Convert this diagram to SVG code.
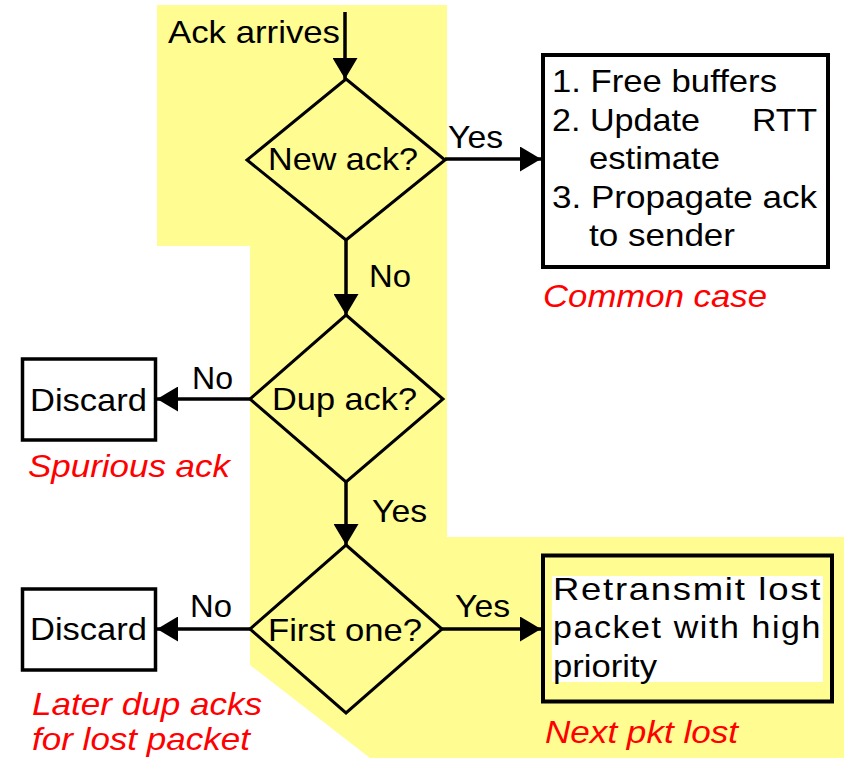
<svg xmlns="http://www.w3.org/2000/svg" width="844" height="758" viewBox="0 0 844 758">
<style>
text{font-family:"Liberation Sans",Arial,sans-serif;font-size:32px;fill:#000}
.note{fill:#ff0000;font-style:italic}
.shape{fill:none;stroke:#000;stroke-width:3}
.box{fill:#fff;stroke:#000;stroke-width:4}
.conn line{stroke:#000;stroke-width:3.5;marker-end:url(#ah)}
</style>
<defs>
<marker id="ah" viewBox="0 0 21 25" refX="21" refY="12.5" markerWidth="21" markerHeight="25" markerUnits="userSpaceOnUse" orient="auto">
<path d="M0,0 L21,12.5 L0,25 z" fill="#000"/>
</marker>
</defs>
<rect width="844" height="758" fill="#fff"/>
<polygon id="highlight" points="157,5 447,5 447,537 844,537 844,758 370,758 250,665 250,246 157,246" fill="#fffc91"/>

<g class="conn" id="connectors">
<line x1="345" y1="12" x2="345" y2="79"/>
<line x1="346" y1="240" x2="346" y2="315"/>
<line x1="346" y1="482" x2="346" y2="545"/>
<line x1="445" y1="159" x2="541" y2="159"/>
<line x1="250" y1="399" x2="157" y2="399"/>
<line x1="250" y1="629" x2="157" y2="629"/>
<line x1="442" y1="629" x2="541" y2="629"/>
<text x="168" y="43" textLength="172" lengthAdjust="spacingAndGlyphs">Ack arrives</text>
<text x="448" y="148" textLength="55" lengthAdjust="spacingAndGlyphs">Yes</text>
<text x="369" y="287" textLength="42" lengthAdjust="spacingAndGlyphs">No</text>
<text x="192" y="389" textLength="41" lengthAdjust="spacingAndGlyphs">No</text>
<text x="372" y="522" textLength="55" lengthAdjust="spacingAndGlyphs">Yes</text>
<text x="190" y="617" textLength="42" lengthAdjust="spacingAndGlyphs">No</text>
<text x="455" y="617" textLength="55" lengthAdjust="spacingAndGlyphs">Yes</text>
</g>

<g id="newack">
<polygon class="shape" points="346,79 445,160 346,240 247,160"/>
<text x="268" y="170" textLength="150" lengthAdjust="spacingAndGlyphs">New ack?</text>
</g>

<g id="commoncase">
<rect class="box" x="543" y="55" width="285" height="212"/>
<text x="552" y="92" textLength="225" lengthAdjust="spacingAndGlyphs">1. Free buffers</text>
<text x="552" y="131" textLength="148" lengthAdjust="spacingAndGlyphs">2. Update</text>
<text x="752" y="131" textLength="65" lengthAdjust="spacingAndGlyphs">RTT</text>
<text x="589" y="169" textLength="131" lengthAdjust="spacingAndGlyphs">estimate</text>
<text x="552" y="208" textLength="265" lengthAdjust="spacingAndGlyphs">3. Propagate ack</text>
<text x="589" y="246" textLength="146" lengthAdjust="spacingAndGlyphs">to sender</text>
<text class="note" x="543" y="307" textLength="224" lengthAdjust="spacingAndGlyphs">Common case</text>
</g>

<g id="dupack">
<polygon class="shape" points="346,315 443,399 346,482 250,399"/>
<text x="272" y="410" textLength="145" lengthAdjust="spacingAndGlyphs">Dup ack?</text>
</g>

<g id="discard1">
<rect class="box" x="22.5" y="359" width="133" height="81" style="stroke-width:3.5"/>
<text x="30" y="411" textLength="117" lengthAdjust="spacingAndGlyphs">Discard</text>
<text class="note" x="28" y="477" textLength="202" lengthAdjust="spacingAndGlyphs">Spurious ack</text>
</g>

<g id="firstone">
<polygon class="shape" points="346,545 442,629 346,713 250,629"/>
<text x="268" y="641" textLength="154" lengthAdjust="spacingAndGlyphs">First one?</text>
</g>

<g id="discard2">
<rect class="box" x="22.5" y="589" width="133" height="81" style="stroke-width:3.5"/>
<text x="30" y="640" textLength="117" lengthAdjust="spacingAndGlyphs">Discard</text>
<text class="note" x="32" y="715" textLength="230" lengthAdjust="spacingAndGlyphs">Later dup acks</text>
<text class="note" x="32" y="750" textLength="218" lengthAdjust="spacingAndGlyphs">for lost packet</text>
</g>

<g id="retransmit">
<rect class="box" x="543" y="555.5" width="289" height="146" style="fill:#fffc91"/>
<rect x="552" y="576" width="271" height="106" fill="#fff"/>
<text x="553" y="600" textLength="269" lengthAdjust="spacingAndGlyphs" letter-spacing="1.5">Retransmit lost</text>
<text x="553" y="638" textLength="269" lengthAdjust="spacingAndGlyphs" letter-spacing="1.5">packet with high</text>
<text x="553" y="677" textLength="104" lengthAdjust="spacingAndGlyphs">priority</text>
<text class="note" x="545" y="743" textLength="193" lengthAdjust="spacingAndGlyphs">Next pkt lost</text>
</g>
</svg>
